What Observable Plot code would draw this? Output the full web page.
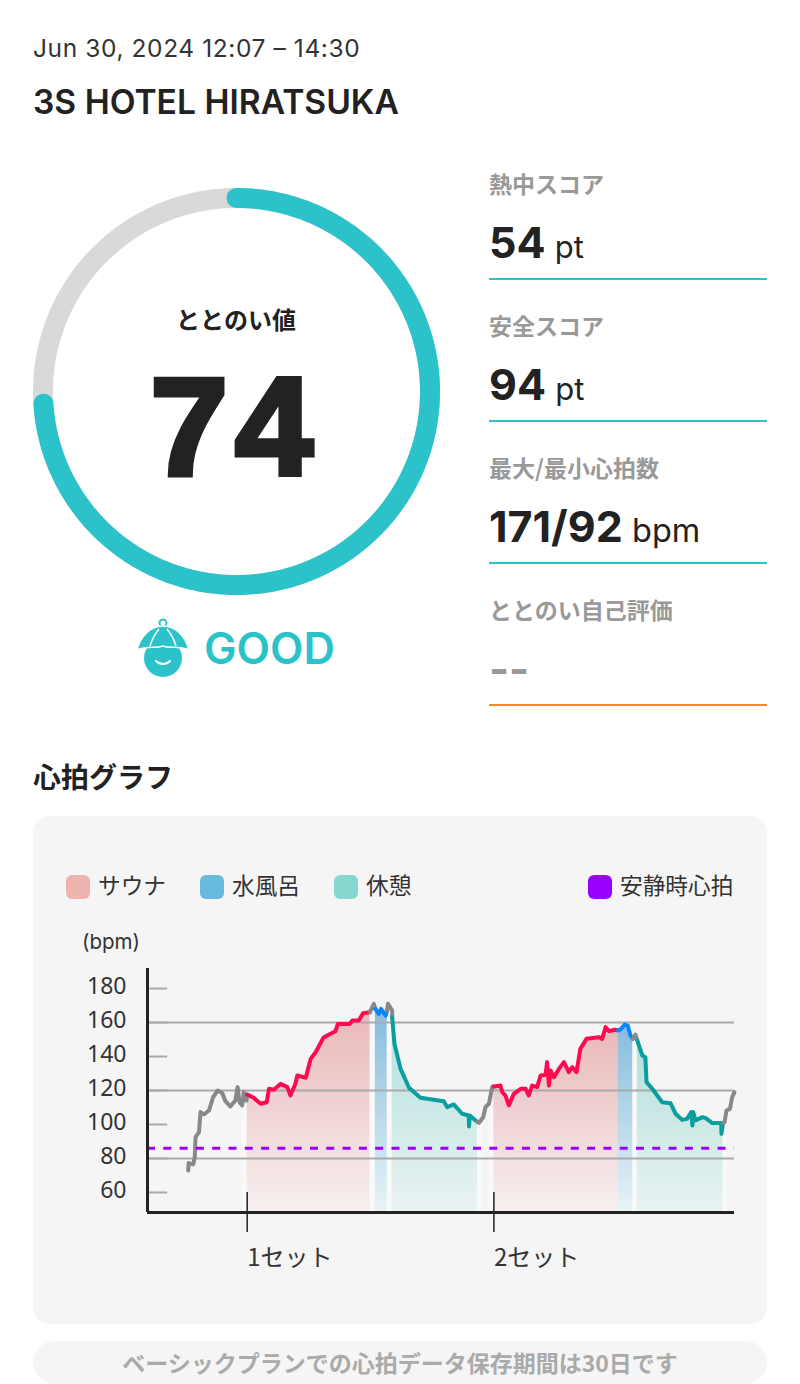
<!DOCTYPE html>
<html lang="ja"><head><meta charset="utf-8">
<script src="https://cdn.jsdelivr.net/npm/d3@7"></script>
<script src="https://cdn.jsdelivr.net/npm/@observablehq/plot@0.6"></script>
<style>
html,body{margin:0;padding:0;background:#fff}
body{width:800px;height:1384px;position:relative;overflow:hidden;font-family:Inter,"Noto Sans CJK JP",sans-serif;color:#222}
.t{position:absolute;white-space:nowrap;line-height:1}
.j{font-family:"Noto Sans CJK JP",sans-serif}
.lbl{left:489px;font-size:23px;font-weight:700;color:#999;font-family:"Noto Sans CJK JP",sans-serif}
.val{left:489px;font-size:43px;font-weight:700;color:#222}
.val span{font-size:31px;font-weight:400;margin-left:-1px}
.rule{position:absolute;left:489px;width:278px;height:2px;background:#2bc3c9}
.sw{position:absolute;top:875px;width:24px;height:24px;border-radius:6px}
.leg{top:874px;font-size:22.7px;color:#333;font-family:"Noto Sans CJK JP",sans-serif}
.abs{position:absolute}
</style></head><body>
<div class="t" style="left:33px;top:36px;font-size:24.5px;letter-spacing:.6px;color:#333">Jun 30, 2024 12:07 – 14:30</div>
<div class="t" style="left:33px;top:85px;font-size:33.6px;font-weight:600">3S HOTEL HIRATSUKA</div>
<div id="ring" class="abs" style="left:16px;top:171px"></div>
<div class="t j" style="left:236px;top:307px;transform:translateX(-50%);font-size:24px;font-weight:700">ととのい値</div>
<div class="t" id="score" style="left:235px;top:357px;transform:translateX(-50%);font-family:'Liberation Sans';font-size:140px;font-weight:700;-webkit-text-stroke:5px #222;letter-spacing:7px"></div>
<svg class="abs" style="left:136px;top:617px" width="54" height="62" viewBox="0 0 54 62">
<circle cx="27" cy="6" r="3.5" fill="none" stroke="#2bc3c9" stroke-width="2"/>
<circle cx="27" cy="41" r="19" fill="#2bc3c9"/>
<path d="M1 33C4 20 14 9 27 9S50 20 53 33C42 28 34 32 27 29C20 32 12 28 1 33Z" fill="#2bc3c9" stroke="#fff" stroke-width="1.5"/>
<path d="M14 29C16 22 19 17 23 12M40 29C38 22 35 17 31 12" fill="none" stroke="#fff" stroke-width="1.5"/>
<path d="M20 44C24 48 30 48 34 44" fill="none" stroke="#fff" stroke-width="2" stroke-linecap="round"/>
</svg>
<div class="t" style="left:204px;top:627px;font-size:43.5px;font-weight:600;color:#2bc3c9">GOOD</div>

<div class="t lbl" style="top:172px">熱中スコア</div>
<div class="t val" style="top:221px">54 <span>pt</span></div><div class="rule" style="top:278px"></div>
<div class="t lbl" style="top:314px">安全スコア</div>
<div class="t val" style="top:363px">94 <span>pt</span></div><div class="rule" style="top:420px"></div>
<div class="t lbl" style="top:456px">最大/最小心拍数</div>
<div class="t val" style="top:505px">171/92 <span style="font-size:32.5px">bpm</span></div><div class="rule" style="top:562px"></div>
<div class="t lbl" style="top:598px">ととのい自己評価</div>
<div class="t val" style="top:647px;color:#999">--</div><div class="rule" style="top:704px;background:#f58a1f"></div>

<div class="t j" style="left:33px;top:762px;font-size:28px;font-weight:700">心拍グラフ</div>
<div class="abs" style="left:33px;top:816px;width:734px;height:508px;background:#f5f5f5;border-radius:16px"></div>
<div class="sw" style="left:66px;background:#f0b4b0"></div><div class="t leg" style="left:98px">サウナ</div>
<div class="sw" style="left:200px;background:#68bbdd"></div><div class="t leg" style="left:232px">水風呂</div>
<div class="sw" style="left:334px;background:#85d8cf"></div><div class="t leg" style="left:366px">休憩</div>
<div class="sw" style="left:588px;background:#9900ff"></div><div class="t leg" style="left:620px">安静時心拍</div>
<div class="t" style="left:82px;top:932px;font-size:20.5px;color:#333">(bpm)</div>
<div id="chart" class="abs" style="left:0;top:940px"></div>
<div class="abs" style="left:33px;top:1341px;width:734px;height:43px;background:#f5f5f5;border-radius:22px"></div>
<div class="t j" style="left:400px;top:1351px;transform:translateX(-50%);font-size:23px;font-weight:700;color:#aaa">ベーシックプランでの心拍データ保存期間は30日です</div>
<script>
const score = 74;
const warmup = [[0.2,72.9],[0.3,77.3],[1.5,76.5],[1.9,80.8],[2.1,92.5],[3,95.5],[3.4,107.3],[4.3,105.9],[5.6,108.2],[6.7,116.1],[7.9,120],[9.1,118.4],[9.9,113.7],[11.2,110.6],[12.5,114.1],[13.1,122],[13.6,113.1],[14.3,111.2],[14.7,119],[15.4,114.1],[15.6,117.6]];
const sauna1 = [[15.6,117.6],[17.3,115.7],[19.1,112.2],[20.7,113.1],[21.3,121],[22.6,120.4],[24.3,123.9],[26.1,122],[26.9,117.1],[28.2,123.9],[28.7,128.8],[30.9,127.5],[32.2,138.6],[33.5,142.5],[35.5,151],[37,152.9],[38.7,154.9],[39.3,159.2],[42.4,159.2],[43.1,161.2],[44.8,161.2],[45.9,165.5],[47.7,166.1]];
const toCold1 = [[47.7,166.1],[48.7,171],[49.1,168]];
const cold1 = [[49.1,168],[50,165.1],[50.6,168],[51.8,164.1],[52.2,167.1]];
const toRest1 = [[52.2,167.1],[52.4,171],[53.5,167.1],[53.5,163.1]];
const rest1 = [[53.5,163.1],[54.1,147.5],[55.7,132.7],[57.9,121.6],[60.9,115.7],[64.4,114.5],[67,113.7],[67.9,110.2],[69.6,111.8],[71.8,106.3],[73.5,105.3],[73.6,98.8],[73.8,105.3],[75.3,102.4],[75.8,101.6]];
const toSauna2 = [[75.8,101.6],[76.2,101],[77.3,104.3],[77.9,110.2],[78.8,112.2],[79.7,122.4],[80.1,122.4]];
const sauna2 = [[80.1,122.4],[81.8,122.9],[82.3,119],[83.1,117.1],[84,111.2],[85.3,118],[87.1,121],[88.4,121],[89.2,117.1],[90.1,122.9],[91.4,122],[92.3,128.8],[93.6,129.2],[94,136.7],[94.5,122.9],[94.9,131.8],[95.8,127.8],[97.1,132.7],[98.4,136.7],[99.7,130.8],[100.6,133.7],[101.7,130.8],[102.7,144.5],[104.3,150.4],[107.5,151.4],[108.4,150.4],[109.3,157.3],[110.2,154.9],[111.5,155.7],[112.5,155.4]];
const cold2 = [[112.5,155.4],[113.2,155.9],[114.3,158.8],[115.1,158.2],[115.8,152.4],[116.4,150.4]];
const toRest2 = [[116.4,150.4],[117.1,152.9],[117.6,149.4]];
const rest2 = [[117.6,149.4],[118.9,140.6],[119.7,139.6],[120,124.9],[121.5,121],[122.8,117.1],[124.1,113.1],[126.3,112.5],[127.6,106.3],[129.3,102.7],[130.6,103.3],[131.7,107.3],[132,99.4],[132.2,107.3],[132.8,102.4],[134.6,104.3],[135.4,103.9],[137.2,100.8],[139.5,100.8],[139.6,94.5],[140,100.8]];
const cooldown = [[140,100.8],[140.4,101.4],[140.9,108.2],[141.8,109.2],[142.4,116.1],[143,119]];
const restingBpm = 86;
const gridBpm = [160,120,80];
const tickBpm = [180,160,140,120,100,80,60];
const setStarts = [15.6,80.1];
const setLabels = ["1セット","2セット"];
const gaps = [[14.3,15.6,112],[47.7,49.1,166],[52.2,53.5,166],[75.8,77,102],[78.9,80.1,114],[116.4,117.6,150],[140,140.9,101]];

const xDomain = [-10.46,143], yDomain = [48.2,191.8];
const tint = (id,a,b) => `<linearGradient id="${id}" x1="0" y1="0" x2="0" y2="1"><stop offset="0" stop-color="${a}"/><stop offset="1" stop-color="${b}"/></linearGradient>`;
const defs = () => {
  const g = d3.create("svg:g");
  g.append("defs").html(tint("gS","#e9b8b9","#f8f0f0")+tint("gC","#84bcdc","#e9f3f8")+tint("gR","#b3e0dc","#e9f3f2"));
  return g.node();
};
const area = (d,id) => Plot.areaY(d,{x:"0",y1:yDomain[0],y2:"1",fill:`url(#${id})`});
const line = (d,c) => Plot.line(d,{x:"0",y:"1",stroke:c,strokeWidth:4,strokeLinejoin:"round",strokeLinecap:"round"});
const grey="#888", pink="#ff0a50", blue="#0a84ff", teal="#0a9ea0";

const chart = Plot.plot({
  width:800,height:340,marginTop:28,marginBottom:68,marginLeft:147,marginRight:66,
  style:{background:"transparent",overflow:"visible"},
  x:{domain:xDomain},y:{domain:yDomain},
  marks:[
    defs,
    Plot.rect(gaps,{x1:"0",x2:"1",y1:yDomain[0],y2:"2",fill:"#fff",fillOpacity:.4}),
    area(sauna1,"gS"),area(sauna2,"gS"),area(cold1,"gC"),area(cold2,"gC"),area(rest1,"gR"),area(rest2,"gR"),
    Plot.ruleY(tickBpm,{x1:xDomain[0],x2:-5.2,stroke:"#aaa",strokeWidth:2}),
    Plot.ruleY(gridBpm,{stroke:"#aaa",strokeWidth:2}),
    Plot.axisY({ticks:tickBpm,tickSize:0,tickPadding:21,fontSize:23,dy:-2,color:"#333",label:null}),
    Plot.axisX({ticks:setStarts,tickFormat:(d,i)=>setLabels[i],tickSize:0,tickPadding:36,fontSize:24,textAnchor:"start",color:"#333",fontFamily:"'Noto Sans CJK JP'",label:null}),
    line(warmup,grey),line(sauna1,pink),line(toCold1,grey),line(cold1,blue),line(toRest1,grey),line(rest1,teal),
    line(toSauna2,grey),line(sauna2,pink),line(cold2,blue),line(toRest2,grey),line(rest2,teal),line(cooldown,grey),
    Plot.ruleY([restingBpm],{stroke:"#9900ff",strokeWidth:3,strokeDasharray:"8 8.3"}),
    Plot.ruleX(setStarts,{y1:60,y2:36.5,stroke:"#222",strokeWidth:1.5}),
    Plot.ruleX([xDomain[0]],{stroke:"#222",strokeWidth:3}),
    Plot.ruleY([yDomain[0]],{stroke:"#222",strokeWidth:3})
  ]
});
document.getElementById("chart").append(chart);

const ringPoints = v => d3.range(0,v+.25,.25).map(p=>[Math.sin(p/100*2*Math.PI),Math.cos(p/100*2*Math.PI)]);
const span = 220/193.5;
const ring = Plot.plot({
  width:440,height:440,margin:0,style:{background:"transparent"},
  x:{domain:[-span,span],axis:null},y:{domain:[-span,span],axis:null},
  marks:[
    Plot.line(ringPoints(100),{x:"0",y:"1",stroke:"#d9d9d9",strokeWidth:20}),
    Plot.line(ringPoints(score),{x:"0",y:"1",stroke:"#2bc3c9",strokeWidth:20,strokeLinecap:"round"})
  ]
});
document.getElementById("ring").append(ring);
document.getElementById("score").textContent = score;
</script>
</body></html>
